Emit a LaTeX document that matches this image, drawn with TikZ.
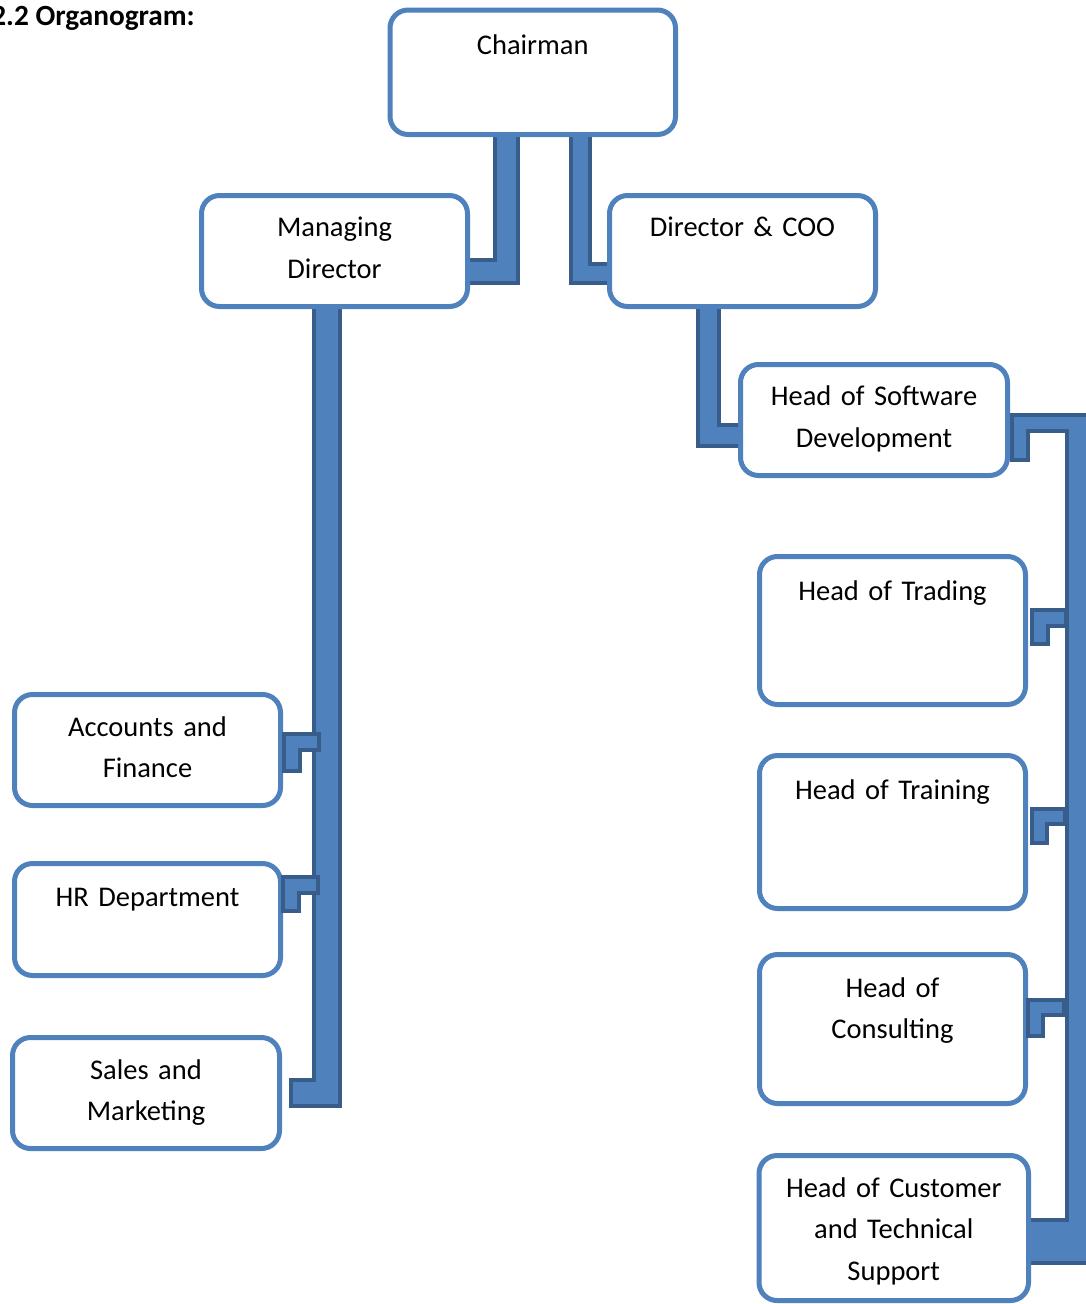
\documentclass[tikz,border=0pt]{standalone}
\usepackage{fontspec}
\setmainfont{Carlito}
\usetikzlibrary{calc, positioning, backgrounds}

\definecolor{boxblue}{HTML}{4F81BD}
\definecolor{barblue}{HTML}{4F81BD}
\definecolor{bardark}{HTML}{385D8A}

\tikzset{
  unitbox/.style={draw=boxblue, line width=5pt, rounded corners=18pt, fill=white,
    minimum width=266pt, inner sep=0pt},
  txt/.style={anchor=base, text width=262pt, align=center, inner sep=0pt,
    font=\fontsize{28.5}{41.5}\selectfont},
  bar/.style={draw=bardark, line width=#1, line cap=rect,
    postaction={draw=barblue, line width=#1-8pt, line cap=rect}},
}

\begin{document}
\begin{tikzpicture}[x=1pt, y=-1pt]
  \useasboundingbox (0,0) rectangle (1085,1304);
  \node[font=\fontsize{29.3}{36}\selectfont\bfseries, anchor=base east, inner sep=0pt] (title) at (195,25) {2.2 Organogram:};

  % boxes
  \node[unitbox, minimum width=285.5pt, minimum height=124.5pt] (chair) at (532.75,72.25) {};
  \node[unitbox, minimum height=111pt] (md) at (334.5,251) {};
  \node[unitbox, minimum height=111pt] (dir) at (742.5,251) {};
  \node[unitbox, minimum width=267pt, minimum height=111pt] (soft) at (874,420) {};
  \node[unitbox, minimum height=148pt] (trade) at (892.5,630.5) {};
  \node[unitbox, minimum height=153pt] (train) at (892.5,832) {};
  \node[unitbox, minimum height=149pt] (consult) at (892.5,1029) {};
  \node[unitbox, minimum width=269.5pt, minimum height=145pt] (cust) at (893.75,1228) {};
  \node[unitbox, minimum height=111pt] (acc) at (147.5,750) {};
  \node[unitbox, minimum height=112pt] (hr) at (147.5,919.5) {};
  \node[unitbox, minimum width=267pt, minimum height=111pt] (sales) at (146,1093) {};

  \node[txt] (chairtxt) at ([shift={(0,47)}]chair.north) {Chairman};
  \node[txt] (mdtxt) at ([shift={(0,43.5)}]md.north) {Managing\\Director};
  \node[txt] (dirtxt) at ([shift={(0,43.5)}]dir.north) {Director \& COO};
  \node[txt] (softtxt) at ([shift={(0,43.5)}]soft.north) {Head of Software\\Development};
  \node[txt] (tradetxt) at ([shift={(0,46)}]trade.north) {Head of Trading};
  \node[txt] (traintxt) at ([shift={(0,46)}]train.north) {Head of Training};
  \node[txt] (consulttxt) at ([shift={(0,45)}]consult.north) {Head of\\Consulting};
  \node[txt] (custtxt) at ([shift={(0,44)}]cust.north) {Head of Customer\\and Technical\\Support};
  \node[txt] (acctxt) at ([shift={(0,44)}]acc.north) {Accounts and\\Finance};
  \node[txt] (hrtxt) at ([shift={(0,45)}]hr.north) {HR Department};
  \node[txt] (salestxt) at ([shift={(0,44)}]sales.north) {Sales and\\Marketing};

  % main bars behind the boxes
  \begin{scope}[on background layer]
    \draw[bar=27pt] ([xshift=-26pt]chair.south) |- ([shift={(0,20)}]md.east);
    \draw[bar=23pt] ([xshift=48pt]chair.south) |- ([shift={(0,22)}]dir.west);
    \draw[bar=30pt] ([xshift=-7.5pt]md.south) |- ([xshift=22pt]sales.east);
    \draw[bar=25pt] ([xshift=-34pt]dir.south) |- ([shift={(0,15)}]soft.west);

    \coordinate (railtop) at ([shift={(74.5,3)}]soft.east);
    \coordinate (railbot) at ([shift={(53.5,13.5)}]cust.east);
    \foreach \c/\w in {bardark/0pt, barblue/8pt} {
      \draw[\c, line cap=rect, line width=20pt-\w] ([shift={(10,32)}]soft.east) |- (railtop);
      \draw[\c, line cap=rect, line width=40pt-\w] ([shift={(0,10)}]railtop) -- (railbot);
      \draw[\c, line cap=rect, line width=47pt-\w] (railbot) -- ([shift={(0,13.5)}]cust.east);
    }
  \end{scope}

  % short elbows
  \draw[bar=20pt] ([shift={(27.5,-8)}]acc.east) -| ([shift={(8.5,13)}]acc.east);
  \draw[bar=20pt] ([shift={(27,-34.5)}]hr.east) -| ([shift={(7.5,-16.5)}]hr.east);
  \draw[bar=20pt] ([shift={(29.5,-12.5)}]trade.east) -| ([shift={(11.5,5.5)}]trade.east);
  \draw[bar=19pt] ([shift={(29.5,-15.5)}]train.east) -| ([shift={(11,3.5)}]train.east);
  \draw[bar=19pt] ([shift={(28,-21.5)}]consult.east) -| ([shift={(7,-0.5)}]consult.east);
\end{tikzpicture}
\end{document}
